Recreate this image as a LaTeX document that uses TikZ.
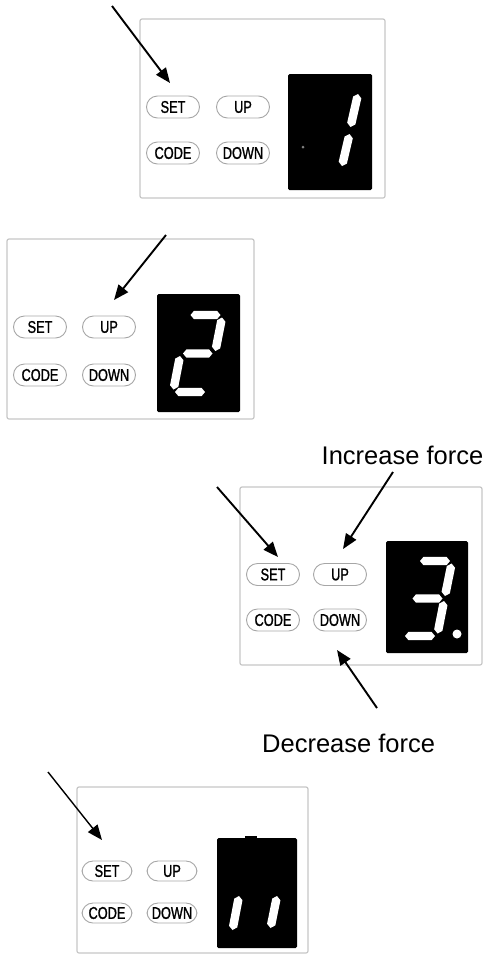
\documentclass[tikz,border=0pt]{standalone}
\usepackage{fontspec}
\setmainfont{Liberation Sans}
\newfontfamily\btnfont[FakeStretch=0.75, FakeBold=1.2]{Liberation Sans}
\usetikzlibrary{arrows.meta, calc}

% one lit segment of a display, pointed at both ends
\newcommand{\lcdseg}[2]{%
  \fill[lcd] (#1) -- ($(#1)!3.5pt!(#2)!4.2pt!90:(#2)$) -- ($(#2)!3.5pt!(#1)!4.2pt!-90:(#1)$)
    -- (#2) -- ($(#2)!3.5pt!(#1)!4.2pt!90:(#1)$) -- ($(#1)!3.5pt!(#2)!4.2pt!-90:(#2)$) -- cycle;}

\begin{document}
\begin{tikzpicture}[x=1pt, y=-1pt,
  panel/.style={draw=gray!45, line width=1.2pt, rounded corners=2pt},
  lcdbox/.style={fill=black, rounded corners=1.5pt},
  lcd/.style={fill=white},
  btn/.style={draw=gray!70, line width=0.9pt, rounded corners=11pt, minimum width=53pt,
    minimum height=22pt, inner sep=0pt, font=\btnfont\fontsize{17}{17}\selectfont},
  pointer/.style={-{Triangle[length=15pt, width=12pt]}, line width=1.9pt},
  caption/.style={font=\fontsize{25.5}{30}\selectfont, inner sep=0pt}]
\useasboundingbox (0,0) rectangle (491,956);

%the first panel
\draw[panel] (140,19) rectangle (385,198);
\fill[lcdbox] (288,74) rectangle (372,190);
\lcdseg{358,94}{350.5,127}
\lcdseg{349.5,134}{342,166}
\fill[gray] (303,147) circle (1.5);
\node[btn] (set1) at (173,107) {SET};
\node[btn] (up1) at (243,107) {UP};
\node[btn] (code1) at (173,153) {CODE};
\node[btn] (down1) at (243,153) {DOWN};
\coordinate (t1) at (112,6);
\coordinate (h1) at (170,83);
\draw[pointer] (t1) -- (h1);

%the second panel
\draw[panel] (7,239) rectangle (254,419);
\fill[lcdbox] (157,294) rectangle (240,412);
\lcdseg{190.5,315}{220.5,315}
\lcdseg{222,317.5}{215.4,351}
\lcdseg{183,353.5}{212.5,353.5}
\lcdseg{180,356}{173.5,389.5}
\lcdseg{175,392}{205,392}
\node[btn] (set2) at (40,327) {SET};
\node[btn] (up2) at (109,327) {UP};
\node[btn] (code2) at (40,375) {CODE};
\node[btn] (down2) at (109,375) {DOWN};
\coordinate (t2) at (166,235);
\coordinate (h2) at (114,300);
\draw[pointer] (t2) -- (h2);

%the third panel
\draw[panel] (240,487) rectangle (482,665);
\fill[lcdbox] (386,541) rectangle (468,653);
\lcdseg{420,561}{450,561}
\lcdseg{451.6,563.5}{445,596}
\lcdseg{412.5,598.5}{442.5,598.5}
\lcdseg{444,601}{437.6,633.5}
\lcdseg{405,636}{435,636}
\fill[lcd] (457,634) circle (4.5);
\node[btn] (set3) at (273,574.5) {SET};
\node[btn] (up3) at (340,574.5) {UP};
\node[btn] (code3) at (273,620) {CODE};
\node[btn] (down3) at (340,620) {DOWN};
\node[caption, anchor=base] (inc) at (402.5,464) {Increase force};
\node[caption, anchor=base west] (dec) at (262,752) {Decrease force};
\coordinate (t3) at (217,487);
\coordinate (h3) at (278,557);
\draw[pointer] (t3) -- (h3);
\coordinate (t3u) at (393,472);
\coordinate (h3u) at (343,549);
\draw[pointer] (t3u) -- (h3u);
\coordinate (t3d) at (377,708);
\coordinate (h3d) at (337,650);
\draw[pointer] (t3d) -- (h3d);

%the fourth panel
\draw[panel] (77,787) rectangle (308,953);
\fill[lcdbox] (217,838) rectangle (297,948);
\fill (245,836) rectangle (257,840);
\lcdseg{239,896}{232.5,930}
\lcdseg{277,896}{270.5,928}
\node[btn, minimum width=50pt, minimum height=20pt] (set4) at (107,871) {SET};
\node[btn, minimum width=50pt, minimum height=20pt] (up4) at (172,871) {UP};
\node[btn, minimum width=50pt, minimum height=20pt] (code4) at (107,913) {CODE};
\node[btn, minimum width=50pt, minimum height=20pt] (down4) at (172,913) {DOWN};
\coordinate (t4) at (48,772);
\coordinate (h4) at (102,840);
\draw[pointer, line width=1.4pt] (t4) -- (h4);
\end{tikzpicture}
\end{document}
